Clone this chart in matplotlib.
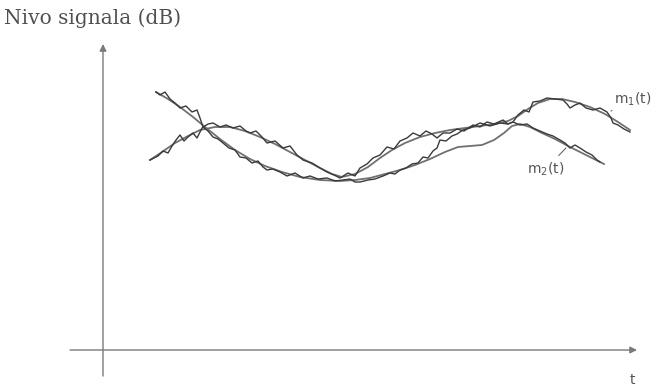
import matplotlib.pyplot as plt

# sketch coordinates (x = time, y = level, drawn with y pointing down like the page)
sig1_x = [150, 158, 163, 168, 172, 176, 180, 184, 188, 193, 197, 202, 208, 213, 220, 226,
          233, 240, 246, 250, 256, 262, 267, 275, 283, 290, 297, 303, 312, 320, 327, 334,
          340, 348, 355, 360, 367, 373, 380, 387, 394, 400, 407, 413, 420, 426, 432, 437,
          443, 450, 457, 464, 473, 480, 487, 494, 503, 508, 513, 518, 524, 529, 533, 540,
          547, 555, 563, 567, 570, 575, 580, 586, 593, 600, 607, 611, 613, 618, 624, 630]
sig1_y = [160, 156, 151, 153, 146, 140, 135, 141, 137, 133, 138, 128, 124, 123, 127, 125,
          128, 126, 131, 133, 131, 137, 143, 141, 148, 146, 155, 160, 163, 168, 172, 175,
          178, 173, 176, 168, 164, 158, 155, 147, 149, 141, 138, 133, 136, 131, 134, 138,
          133, 133, 129, 131, 125, 127, 122, 124, 120, 124, 122, 115, 110, 112, 102, 101,
          98, 99, 100, 104, 108, 105, 103, 108, 110, 108, 112, 118, 123, 125, 129, 132]

sig2_x = [156, 160, 165, 170, 175, 180, 186, 192, 197, 200, 203, 208, 213, 218, 223, 229,
          235, 240, 246, 252, 258, 263, 267, 273, 280, 287, 295, 303, 310, 318, 327, 335,
          343, 350, 355, 360, 368, 375, 383, 390, 395, 400, 406, 412, 418, 423, 428, 433,
          437, 440, 446, 452, 457, 463, 470, 480, 490, 500, 508, 513, 520, 527, 533, 540,
          547, 553, 560, 565, 570, 575, 580, 586, 592, 597, 600]
sig2_y = [92, 95, 92, 99, 103, 108, 106, 112, 110, 118, 127, 131, 137, 139, 143, 148,
          150, 157, 158, 163, 161, 167, 170, 169, 172, 176, 173, 178, 176, 179, 178, 181,
          180, 179, 182, 182, 180, 179, 176, 173, 174, 170, 168, 164, 163, 157, 158, 151,
          148, 140, 141, 136, 134, 130, 128, 123, 126, 123, 124, 122, 125, 124, 128, 131,
          134, 136, 140, 143, 148, 145, 148, 152, 155, 160, 162]

m1_x = [150, 162, 175, 188, 200, 215, 230, 245, 260, 275, 290, 305, 320, 332, 342, 355,
        368, 380, 392, 405, 420, 435, 450, 465, 480, 495, 508, 518, 528, 538, 550, 562,
        575, 590, 605, 618, 630]
m1_y = [160, 152, 143, 136, 130, 127, 127, 131, 137, 144, 152, 160, 168, 174, 177, 174,
        167, 158, 150, 143, 137, 133, 130, 128, 126, 124, 121, 116, 109, 103, 99, 99,
        102, 107, 114, 122, 130]

m2_x = [156, 168, 180, 193, 205, 220, 235, 250, 265, 282, 300, 320, 340, 355, 370, 385,
        400, 415, 430, 445, 458, 470, 482, 494, 504, 512, 520, 530, 542, 555, 568, 580,
        592, 604]
m2_y = [92, 99, 107, 117, 127, 139, 150, 159, 166, 172, 177, 180, 181, 180, 178, 174,
        170, 165, 159, 152, 147, 146, 145, 140, 133, 126, 124, 127, 133, 139, 146, 152,
        158, 164]

axis_x = 103
axis_y = 350

fig = plt.figure(figsize=(6.68, 3.88), dpi=100)
ax = fig.add_axes([0, 0, 1, 1])
ax.set_xlim(0, 668)
ax.set_ylim(388, 0)
ax.axis('off')

# axes drawn as arrows
ax.annotate('', xy=(axis_x, 44), xytext=(axis_x, 376),
            arrowprops=dict(arrowstyle='-|>', color='#7a7a7a', lw=1.0,
                            mutation_scale=10, shrinkA=0, shrinkB=0))
ax.annotate('', xy=(637, axis_y), xytext=(70, axis_y),
            arrowprops=dict(arrowstyle='-|>', color='#7a7a7a', lw=1.0,
                            mutation_scale=10, shrinkA=0, shrinkB=0))

ax.plot(m1_x, m1_y, color='#707070', lw=1.3)
ax.plot(m2_x, m2_y, color='#707070', lw=1.3)
ax.plot(sig1_x, sig1_y, color='#3a3a3a', lw=1.0)
ax.plot(sig2_x, sig2_y, color='#3a3a3a', lw=1.0)

ax.text(4, 18, 'Nivo signala (dB)', family='DejaVu Serif', fontsize=14.5,
        color='#505050', va='center', ha='left')
ax.text(632, 380, 't', family='DejaVu Sans', fontsize=10, color='#555555',
        ha='center', va='center')

ax.annotate('m$_1$(t)', xy=(611, 111), xytext=(614, 99), fontsize=10,
            color='#555555', ha='left', va='center',
            arrowprops=dict(arrowstyle='-', color='#666666', lw=0.8,
                            shrinkA=2, shrinkB=0))
ax.annotate('m$_2$(t)', xy=(566, 148), xytext=(527, 169), fontsize=10,
            color='#555555', ha='left', va='center',
            arrowprops=dict(arrowstyle='-', color='#666666', lw=0.8,
                            shrinkA=2, shrinkB=0))

plt.savefig('out.png', dpi=100)
